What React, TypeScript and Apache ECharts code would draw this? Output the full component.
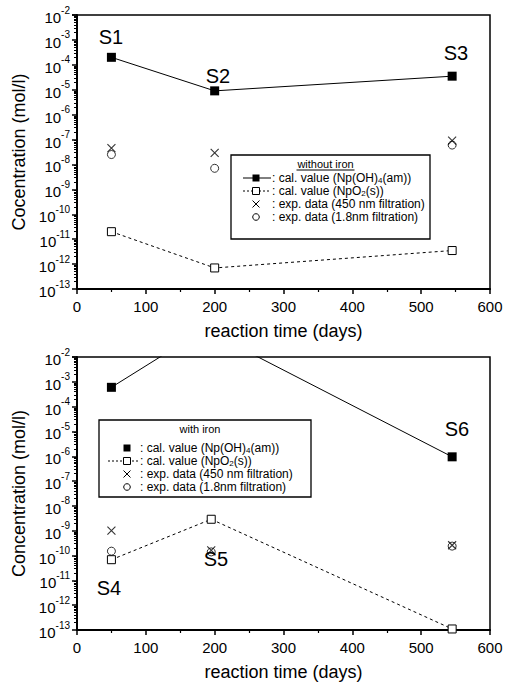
import React, { useEffect, useRef } from "react";
import * as echarts from "echarts";

// ---- data ----
const days = [50, 200, 545];
const daysIron = [50, 195, 545];
// without iron (top)
const calOHTop = [2e-4, 9e-6, 3.5e-5];
const calNpO2Top = [2e-11, 7e-13, 3.5e-12];
const exp450Top = [4.5e-8, 2.9e-8, 9e-8];
const exp18Top = [2.5e-8, 7e-9, 6e-8];
// with iron (bottom)
const calOHDaysBottom = [50, 185, 545];
const calOHBottom = [6e-4, 0.13, 9.5e-7];
const calNpO2Bottom = [6.8e-11, 2.9e-9, 1.1e-13];
const exp450Bottom = [1e-9, 1.6e-10, 2.6e-10];
const exp18Bottom = [1.5e-10, 1.4e-10, 2.4e-10];
const sampleLabelsTop = ["S1", "S2", "S3"];
const sampleLabelsBottom = ["S4", "S5", "S6"];
const legendRows = [
  ": cal. value (Np(OH){sub|4}(am))",
  ": cal. value (NpO{sub|2}(s))",
  ": exp. data (450 nm filtration)",
  ": exp. data (1.8nm filtration)",
];

const FONT = "'Liberation Sans', Arial, sans-serif";
const NARROW = "'Liberation Sans Narrow', 'Arial Narrow', 'Liberation Sans', sans-serif";
const CROSS = "path://M0,0L10,10M0,10L10,0";

const zip = (xs: number[], ys: number[]) => xs.map((x, i) => [x, ys[i]]);

function xAxis(gridIndex: number) {
  return {
    type: "value",
    gridIndex,
    min: 0,
    max: 600,
    interval: 100,
    name: "reaction time (days)",
    nameLocation: "middle",
    nameGap: 33,
    nameTextStyle: { fontFamily: FONT, fontSize: 18, color: "#000" },
    axisLine: { show: true, onZero: false, lineStyle: { color: "#000", width: 2 } },
    axisTick: { show: true, inside: false, length: 5, lineStyle: { color: "#000", width: 1.5 } },
    minorTick: { show: true, splitNumber: 2, length: 3, lineStyle: { color: "#000", width: 1.2 } },
    splitLine: { show: false },
    axisLabel: { fontFamily: FONT, fontSize: 15, color: "#000", margin: 10 },
  };
}

function yAxis(gridIndex: number, name: string) {
  return {
    type: "log",
    logBase: 10,
    gridIndex,
    min: 1e-13,
    max: 1e-2,
    interval: 1,
    name,
    nameLocation: "middle",
    nameGap: 47,
    nameRotate: 90,
    nameTextStyle: { fontFamily: FONT, fontSize: 18, color: "#000" },
    axisLine: { show: true, lineStyle: { color: "#000", width: 2 } },
    axisTick: { show: true, inside: false, length: 5, lineStyle: { color: "#000", width: 1.5 } },
    minorTick: { show: true, splitNumber: 9, length: 3, lineStyle: { color: "#000", width: 1 } },
    splitLine: { show: false },
    axisLabel: {
      margin: 7,
      formatter: (v: number) => `{b|10}{s|${Math.round(Math.log10(v))}}`,
      rich: {
        b: { fontFamily: FONT, fontSize: 15, color: "#000", lineHeight: 20, verticalAlign: "bottom" },
        s: { fontFamily: FONT, fontSize: 10, color: "#000", lineHeight: 10, verticalAlign: "top" },
      },
    },
  };
}

function legendGraphic(
  box: { x: number; y: number; w: number; h: number },
  header: string,
  underline: boolean,
  rowsY: number[],
  sampleX0: number,
  sampleX1: number,
  markX: number,
  textX: number,
  firstHasLine: boolean
) {
  const els: any[] = [];
  els.push({
    type: "rect",
    shape: { x: box.x, y: box.y, width: box.w, height: box.h },
    style: { fill: "#fff", stroke: "#000", lineWidth: 1.3 },
    z: 100,
  });
  const headerY = box.y + 9;
  const hx = box.x + box.w / 2 - 5;
  els.push({
    type: "text",
    x: hx,
    y: headerY,
    style: { text: header, font: `11px ${NARROW}`, fill: "#000", align: "center", verticalAlign: "middle" },
    z: 101,
  });
  if (underline) {
    els.push({
      type: "line",
      shape: { x1: hx - 29, y1: headerY + 6, x2: hx + 29, y2: headerY + 6 },
      style: { stroke: "#000", lineWidth: 1 },
      z: 101,
    });
  }
  // row 1: filled square (with or without line)
  if (firstHasLine) {
    els.push({
      type: "line",
      shape: { x1: sampleX0, y1: rowsY[0], x2: sampleX1, y2: rowsY[0] },
      style: { stroke: "#000", lineWidth: 1 },
      z: 101,
    });
  }
  els.push({
    type: "rect",
    shape: { x: markX - 3.5, y: rowsY[0] - 3.5, width: 7, height: 7 },
    style: { fill: "#000" },
    z: 102,
  });
  // row 2: dashed with hollow square
  els.push({
    type: "line",
    shape: { x1: sampleX0, y1: rowsY[1], x2: sampleX1, y2: rowsY[1] },
    style: { stroke: "#000", lineWidth: 1, lineDash: [2, 2] },
    z: 101,
  });
  els.push({
    type: "rect",
    shape: { x: markX - 3.5, y: rowsY[1] - 3.5, width: 7, height: 7 },
    style: { fill: "#fff", stroke: "#000", lineWidth: 1 },
    z: 102,
  });
  // row 3: cross
  els.push({
    type: "line",
    shape: { x1: markX - 3.5, y1: rowsY[2] - 3.5, x2: markX + 3.5, y2: rowsY[2] + 3.5 },
    style: { stroke: "#000", lineWidth: 1 },
    z: 101,
  });
  els.push({
    type: "line",
    shape: { x1: markX - 3.5, y1: rowsY[2] + 3.5, x2: markX + 3.5, y2: rowsY[2] - 3.5 },
    style: { stroke: "#000", lineWidth: 1 },
    z: 101,
  });
  // row 4: circle
  els.push({
    type: "circle",
    shape: { cx: markX, cy: rowsY[3], r: 3.3 },
    style: { fill: "#fff", stroke: "#000", lineWidth: 1 },
    z: 101,
  });
  legendRows.forEach((t, i) => {
    els.push({
      type: "text",
      x: textX,
      y: rowsY[i],
      style: {
        text: t,
        font: `12px ${NARROW}`,
        fill: "#000",
        align: "left",
        verticalAlign: "middle",
        rich: {
          sub: { font: `8px ${NARROW}`, fill: "#000", lineHeight: 8, verticalAlign: "bottom" },
        },
      },
      z: 101,
    });
  });
  return els;
}

function sLabel(text: string, x: number, y: number) {
  return {
    type: "text",
    x,
    y,
    style: { text, font: `20px ${FONT}`, fill: "#000", align: "center", verticalAlign: "middle" },
    z: 50,
  };
}

export default function App() {
  const ref = useRef<HTMLDivElement>(null);
  useEffect(() => {
    if (!ref.current) return;
    const chart = echarts.init(ref.current, null, { renderer: "svg" });
    const base = { xAxisIndex: 0, yAxisIndex: 0 };
    const bot = { xAxisIndex: 1, yAxisIndex: 1 };
    const calOHStyle = {
      type: "line",
      symbol: "rect",
      symbolSize: 9,
      lineStyle: { color: "#000", width: 1 },
      itemStyle: { color: "#000" },
      clip: true,
    };
    const calNpO2Style = {
      type: "line",
      symbol: "rect",
      symbolSize: 8,
      lineStyle: { color: "#000", width: 1, type: [3, 3] },
      itemStyle: { color: "#fff", borderColor: "#000", borderWidth: 1 },
      clip: true,
    };
    const crossStyle = {
      type: "scatter",
      symbol: CROSS,
      symbolSize: 8,
      itemStyle: { color: "none", borderColor: "#000", borderWidth: 1.1 },
    };
    const circleStyle = {
      type: "scatter",
      symbol: "circle",
      symbolSize: 8,
      itemStyle: { color: "rgba(255,255,255,0)", borderColor: "#000", borderWidth: 1 },
    };
    chart.setOption({
      animation: false,
      backgroundColor: "#fff",
      textStyle: { fontFamily: FONT },
      grid: [
        { left: 77, top: 15, width: 413, height: 274, show: true, borderColor: "#000", borderWidth: 1.5, backgroundColor: "transparent" },
        { left: 77, top: 357, width: 413, height: 275, show: true, borderColor: "#000", borderWidth: 1.5, backgroundColor: "transparent" },
      ],
      xAxis: [xAxis(0), xAxis(1)],
      yAxis: [yAxis(0, "Cocentration (mol/l)"), yAxis(1, "Concentration (mol/l)")],
      series: [
        { ...calOHStyle, ...base, name: "calOH", data: zip(days, calOHTop) },
        { ...calNpO2Style, ...base, name: "calNpO2", data: zip(days, calNpO2Top) },
        { ...crossStyle, ...base, name: "exp450", data: zip(days, exp450Top) },
        { ...circleStyle, ...base, name: "exp18", data: zip(days, exp18Top) },
        { ...calOHStyle, ...bot, name: "calOH-iron", data: zip(calOHDaysBottom, calOHBottom) },
        { ...calNpO2Style, ...bot, name: "calNpO2-iron", data: zip(daysIron, calNpO2Bottom) },
        { ...crossStyle, ...bot, name: "exp450-iron", data: zip(daysIron, exp450Bottom) },
        { ...circleStyle, ...bot, name: "exp18-iron", data: zip(daysIron, exp18Bottom) },
      ],
      graphic: [
        sLabel(sampleLabelsTop[0], 111, 37),
        sLabel(sampleLabelsTop[1], 218, 76),
        sLabel(sampleLabelsTop[2], 456, 53),
        sLabel(sampleLabelsBottom[0], 109, 588),
        sLabel(sampleLabelsBottom[1], 216, 559),
        sLabel(sampleLabelsBottom[2], 457, 429),
        ...legendGraphic({ x: 231, y: 155, w: 199, h: 84 }, "without iron", true, [178, 191, 204, 217], 243, 271, 256, 272, true),
        ...legendGraphic({ x: 99, y: 420, w: 212, h: 77 }, "with iron", false, [448, 461, 474, 487], 108, 140, 127, 140, false),
      ],
    });
    return () => chart.dispose();
  }, []);
  return (
    <div
      ref={ref}
      style={{ position: "absolute", left: 0, top: 0, width: 510, height: 682, background: "#fff" }}
    />
  );
}
